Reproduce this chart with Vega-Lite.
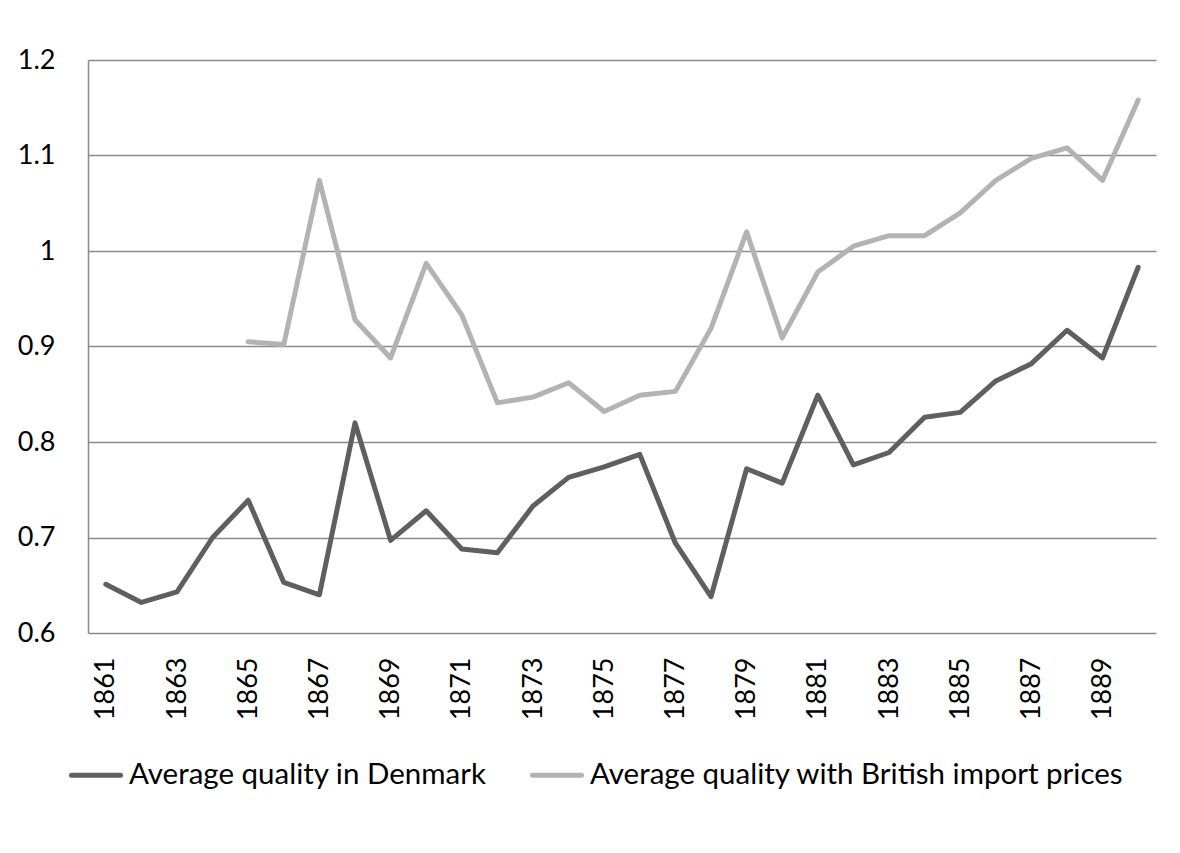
{
  "$schema": "https://vega.github.io/schema/vega-lite/v6.json",
  "autosize": "none",
  "width": 1068,
  "height": 573,
  "padding": {"left": 88, "top": 60, "right": 24, "bottom": 220},
  "background": "white",
  "config": {
    "font": "Lato",
    "view": {"stroke": null},
    "axis": {"labelFont": "Lato", "labelColor": "#000000"}
  },
  "data": {
    "values": [
      {"year": 1861, "series": "Average quality in Denmark", "value": 0.651},
      {"year": 1862, "series": "Average quality in Denmark", "value": 0.632},
      {"year": 1863, "series": "Average quality in Denmark", "value": 0.643},
      {"year": 1864, "series": "Average quality in Denmark", "value": 0.700},
      {"year": 1865, "series": "Average quality in Denmark", "value": 0.739},
      {"year": 1866, "series": "Average quality in Denmark", "value": 0.653},
      {"year": 1867, "series": "Average quality in Denmark", "value": 0.640},
      {"year": 1868, "series": "Average quality in Denmark", "value": 0.820},
      {"year": 1869, "series": "Average quality in Denmark", "value": 0.697},
      {"year": 1870, "series": "Average quality in Denmark", "value": 0.728},
      {"year": 1871, "series": "Average quality in Denmark", "value": 0.688},
      {"year": 1872, "series": "Average quality in Denmark", "value": 0.684},
      {"year": 1873, "series": "Average quality in Denmark", "value": 0.733},
      {"year": 1874, "series": "Average quality in Denmark", "value": 0.763},
      {"year": 1875, "series": "Average quality in Denmark", "value": 0.774},
      {"year": 1876, "series": "Average quality in Denmark", "value": 0.787},
      {"year": 1877, "series": "Average quality in Denmark", "value": 0.694},
      {"year": 1878, "series": "Average quality in Denmark", "value": 0.638},
      {"year": 1879, "series": "Average quality in Denmark", "value": 0.772},
      {"year": 1880, "series": "Average quality in Denmark", "value": 0.757},
      {"year": 1881, "series": "Average quality in Denmark", "value": 0.849},
      {"year": 1882, "series": "Average quality in Denmark", "value": 0.776},
      {"year": 1883, "series": "Average quality in Denmark", "value": 0.789},
      {"year": 1884, "series": "Average quality in Denmark", "value": 0.826},
      {"year": 1885, "series": "Average quality in Denmark", "value": 0.831},
      {"year": 1886, "series": "Average quality in Denmark", "value": 0.864},
      {"year": 1887, "series": "Average quality in Denmark", "value": 0.882},
      {"year": 1888, "series": "Average quality in Denmark", "value": 0.917},
      {"year": 1889, "series": "Average quality in Denmark", "value": 0.888},
      {"year": 1890, "series": "Average quality in Denmark", "value": 0.983},
      {"year": 1865, "series": "Average quality with British import prices", "value": 0.905},
      {"year": 1866, "series": "Average quality with British import prices", "value": 0.902},
      {"year": 1867, "series": "Average quality with British import prices", "value": 1.074},
      {"year": 1868, "series": "Average quality with British import prices", "value": 0.928},
      {"year": 1869, "series": "Average quality with British import prices", "value": 0.888},
      {"year": 1870, "series": "Average quality with British import prices", "value": 0.987},
      {"year": 1871, "series": "Average quality with British import prices", "value": 0.933},
      {"year": 1872, "series": "Average quality with British import prices", "value": 0.841},
      {"year": 1873, "series": "Average quality with British import prices", "value": 0.847},
      {"year": 1874, "series": "Average quality with British import prices", "value": 0.862},
      {"year": 1875, "series": "Average quality with British import prices", "value": 0.832},
      {"year": 1876, "series": "Average quality with British import prices", "value": 0.849},
      {"year": 1877, "series": "Average quality with British import prices", "value": 0.853},
      {"year": 1878, "series": "Average quality with British import prices", "value": 0.919},
      {"year": 1879, "series": "Average quality with British import prices", "value": 1.020},
      {"year": 1880, "series": "Average quality with British import prices", "value": 0.909},
      {"year": 1881, "series": "Average quality with British import prices", "value": 0.978},
      {"year": 1882, "series": "Average quality with British import prices", "value": 1.005},
      {"year": 1883, "series": "Average quality with British import prices", "value": 1.016},
      {"year": 1884, "series": "Average quality with British import prices", "value": 1.016},
      {"year": 1885, "series": "Average quality with British import prices", "value": 1.040},
      {"year": 1886, "series": "Average quality with British import prices", "value": 1.074},
      {"year": 1887, "series": "Average quality with British import prices", "value": 1.097},
      {"year": 1888, "series": "Average quality with British import prices", "value": 1.108},
      {"year": 1889, "series": "Average quality with British import prices", "value": 1.074},
      {"year": 1890, "series": "Average quality with British import prices", "value": 1.158}
    ]
  },
  "mark": {"type": "line", "strokeWidth": 5, "strokeJoin": "round", "strokeCap": "round"},
  "encoding": {
    "x": {
      "field": "year",
      "type": "ordinal",
      "scale": {"type": "point", "padding": 0.5},
      "axis": {
        "title": null,
        "values": [1861, 1863, 1865, 1867, 1869, 1871, 1873, 1875, 1877, 1879, 1881, 1883, 1885, 1887, 1889],
        "labelAngle": -90,
        "labelFontSize": 27,
        "labelPadding": 24,
        "ticks": false,
        "domain": false,
        "grid": false
      }
    },
    "y": {
      "field": "value",
      "type": "quantitative",
      "scale": {"domain": [0.6, 1.2], "nice": false, "zero": false},
      "axis": {
        "title": null,
        "values": [0.6, 0.7, 0.8, 0.9, 1.0, 1.1, 1.2],
        "format": ".1~f",
        "labelFontSize": 27,
        "labelPadding": 33,
        "ticks": false,
        "domain": true,
        "domainColor": "#8a8a8a",
        "domainWidth": 1.5,
        "grid": true,
        "gridColor": "#8a8a8a",
        "gridWidth": 1.5,
        "gridOpacity": 1
      }
    },
    "color": {
      "field": "series",
      "type": "nominal",
      "scale": {
        "domain": ["Average quality in Denmark", "Average quality with British import prices"],
        "range": ["#5f5f5f", "#b3b3b3"]
      },
      "legend": {
        "title": null,
        "orient": "none",
        "legendX": -19,
        "legendY": 688,
        "direction": "horizontal",
        "symbolType": "stroke",
        "symbolSize": 2401,
        "symbolStrokeWidth": 5,
        "labelFontSize": 29.5,
        "labelFont": "Lato",
        "labelColor": "#000000",
        "labelOffset": 6,
        "columnPadding": 35,
        "labelLimit": 700,
        "encode": {"symbols": {"update": {"strokeCap": {"value": "round"}}}}
      }
    }
  }
}
